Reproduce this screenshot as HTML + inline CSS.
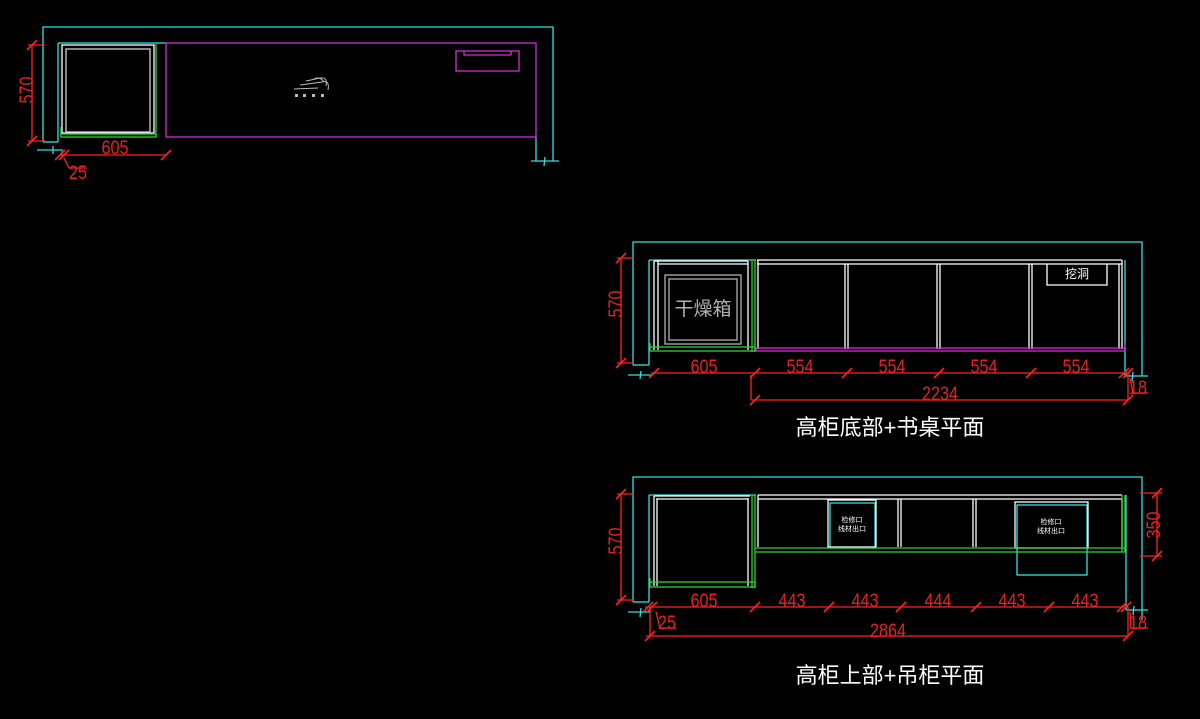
<!DOCTYPE html>
<html><head><meta charset="utf-8"><style>
html,body{margin:0;padding:0;background:#000;}
svg{display:block}
text{font-family:"Liberation Sans","Noto Sans CJK SC",sans-serif;}
</style></head><body>
<svg width="1200" height="719" viewBox="0 0 1200 719" xmlns="http://www.w3.org/2000/svg">
<rect width="1200" height="719" fill="#000"/>
<defs>
<g id="tk"><line x1="-5" y1="5" x2="5" y2="-5" stroke="#ff2020" stroke-width="1.6"/></g>
</defs>
<g fill="none" stroke-width="1.3">
<!-- ===== TOP DRAWING ===== -->
<g stroke="#33e0e0">
<polyline points="43,142 43,27 553,27 553,161"/>
<line x1="58" y1="43" x2="58" y2="142"/>
<line x1="58" y1="43" x2="166" y2="43"/>
<line x1="43" y1="142" x2="58" y2="142"/>
<line x1="37" y1="150" x2="63" y2="150"/>
<line x1="53" y1="146" x2="53" y2="154"/>
<line x1="536" y1="137" x2="536" y2="161"/>
<line x1="531" y1="161" x2="559" y2="161"/>
<line x1="545" y1="157" x2="544" y2="166"/>
</g>
<g stroke="#ffffff">
<rect x="62" y="45" width="92" height="88"/>
<rect x="66" y="49" width="84" height="83" stroke="#cfcfcf"/>
</g>
<g stroke="#30d030">
<line x1="156" y1="44" x2="156" y2="137"/>
<rect x="61" y="134" width="95" height="3"/>
<line x1="61" y1="127" x2="61" y2="134"/>
</g>
<g stroke="#d030d0">
<rect x="166" y="43" width="370" height="94"/>
<rect x="456" y="51" width="63" height="20"/>
<polyline points="464,51 464,55 511,55 511,51"/>
</g>
<g stroke="#bbbbbb" stroke-width="1">
<path d="M294,89 L318,88 M300,85 L322,82 Q330,80 328,90 M306,81 L320,78 Q328,77 326,86 M314,79 Q320,76 324,82"/>
</g>
<g fill="#bbbbbb" stroke="none"><rect x="295" y="94" width="3" height="3"/><rect x="303" y="94" width="3" height="3"/><rect x="312" y="94" width="3" height="3"/><rect x="321" y="94" width="3" height="3"/></g>
<g stroke="#ff2020">
<line x1="32" y1="45" x2="32" y2="142"/>
<line x1="28" y1="45" x2="45" y2="45"/>
<line x1="28" y1="141" x2="45" y2="141"/>
<line x1="60" y1="155" x2="166" y2="155"/>
<line x1="62" y1="151" x2="62" y2="158"/>
<line x1="64" y1="158" x2="69" y2="168"/>
<line x1="69" y1="168" x2="87" y2="168"/>
</g>
<use href="#tk" x="32" y="45"/><use href="#tk" x="32" y="141"/>
<use href="#tk" x="60" y="155"/><use href="#tk" x="64" y="155"/><use href="#tk" x="166" y="155"/>

<!-- ===== MIDDLE DRAWING ===== -->
<g stroke="#33e0e0">
<polyline points="633,365 633,242 1142,242 1142,376"/>
<line x1="649" y1="260" x2="649" y2="365"/>
<line x1="649" y1="260" x2="756" y2="260"/>
<line x1="1125" y1="260" x2="1125" y2="376"/>
<line x1="633" y1="365" x2="649" y2="365"/>
<line x1="628" y1="375" x2="651" y2="375"/>
<line x1="641" y1="371" x2="640" y2="379"/>
<line x1="1125" y1="376" x2="1148" y2="376"/>
<line x1="1133" y1="372" x2="1132" y2="381"/>
</g>
<g stroke="#ffffff">
<line x1="654" y1="261" x2="654" y2="350"/>
<line x1="658" y1="261" x2="658" y2="350"/>
<line x1="748" y1="261" x2="748" y2="350"/>
<line x1="654" y1="261" x2="748" y2="261"/>
<line x1="658" y1="264" x2="748" y2="264"/>
<line x1="757" y1="260" x2="1122" y2="260"/>
<line x1="757" y1="264" x2="1122" y2="264"/>
<line x1="758" y1="260" x2="758" y2="349"/>
<line x1="845" y1="264" x2="845" y2="349"/>
<line x1="848" y1="264" x2="848" y2="349"/>
<line x1="937" y1="264" x2="937" y2="349"/>
<line x1="940" y1="264" x2="940" y2="349"/>
<line x1="1029" y1="264" x2="1029" y2="349"/>
<line x1="1032" y1="264" x2="1032" y2="349"/>
<line x1="1119" y1="264" x2="1119" y2="349"/>
<line x1="1122" y1="260" x2="1122" y2="349"/>
<polyline points="1047,264 1047,285 1107,285 1107,264"/>
</g>
<g stroke="#b0b0b0"><rect x="665" y="275" width="76" height="69"/><rect x="669" y="279" width="68" height="61"/></g>
<g stroke="#30d030">
<line x1="752" y1="260" x2="752" y2="352"/>
<line x1="755" y1="260" x2="755" y2="352"/>
<rect x="650" y="347" width="105" height="4"/>
<line x1="650" y1="343" x2="650" y2="347"/>
</g>
<g stroke="#d030d0">
<rect x="756" y="348" width="369" height="3"/>
<line x1="1125" y1="343" x2="1125" y2="351"/>
</g>
<g stroke="#ff2020">
<line x1="621" y1="258" x2="621" y2="364"/>
<line x1="617" y1="258" x2="634" y2="258"/>
<line x1="617" y1="363" x2="634" y2="363"/>
<line x1="651" y1="373" x2="1127" y2="373"/>
<line x1="751" y1="400" x2="1128" y2="400"/>
<line x1="751" y1="375" x2="751" y2="400"/>
<line x1="1128" y1="373" x2="1128" y2="400"/>
<line x1="1130" y1="378" x2="1133" y2="393"/>
<line x1="1133" y1="393" x2="1148" y2="393"/>
</g>
<use href="#tk" x="621" y="258"/><use href="#tk" x="621" y="363"/>
<use href="#tk" x="654" y="373"/><use href="#tk" x="755" y="373"/><use href="#tk" x="847" y="373"/><use href="#tk" x="939" y="373"/><use href="#tk" x="1031" y="373"/><use href="#tk" x="1124" y="373"/><use href="#tk" x="1128" y="373"/>
<use href="#tk" x="755" y="400"/><use href="#tk" x="1128" y="400"/>

<!-- ===== BOTTOM DRAWING ===== -->
<g stroke="#33e0e0">
<polyline points="633,602 633,477 1142,477 1142,620"/>
<line x1="649" y1="495" x2="649" y2="602"/>
<line x1="649" y1="495" x2="756" y2="495"/>
<line x1="1126" y1="495" x2="1126" y2="610"/>
<line x1="633" y1="602" x2="649" y2="602"/>
<line x1="628" y1="612" x2="651" y2="612"/>
<line x1="641" y1="608" x2="640" y2="617"/>
<line x1="1126" y1="610" x2="1148" y2="610"/>
<line x1="1134" y1="606" x2="1133" y2="615"/>
<rect x="830" y="503" width="45" height="45"/>
<rect x="1017" y="505" width="70" height="70"/>
</g>
<g stroke="#ffffff">
<line x1="654" y1="496" x2="654" y2="586"/>
<line x1="657" y1="498" x2="657" y2="586"/>
<line x1="748" y1="498" x2="748" y2="586"/>
<line x1="654" y1="496" x2="750" y2="496"/>
<line x1="657" y1="499" x2="748" y2="499"/>
<line x1="758" y1="495" x2="1122" y2="495"/>
<line x1="758" y1="499" x2="1122" y2="499"/>
<line x1="758" y1="495" x2="758" y2="547"/>
<line x1="898" y1="499" x2="898" y2="547"/>
<line x1="901" y1="499" x2="901" y2="547"/>
<line x1="973" y1="499" x2="973" y2="547"/>
<line x1="976" y1="499" x2="976" y2="547"/>
<line x1="1122" y1="499" x2="1122" y2="547"/>
<rect x="828" y="500" width="48" height="47"/>
<rect x="1015" y="502" width="73" height="46"/>
</g>
<g stroke="#30d030">
<line x1="752" y1="495" x2="752" y2="588"/>
<line x1="755" y1="495" x2="755" y2="588"/>
<rect x="650" y="582" width="105" height="5"/>
<line x1="650" y1="578" x2="650" y2="582"/>
<line x1="755" y1="548" x2="1126" y2="548"/>
<line x1="755" y1="552" x2="1126" y2="552"/>
<line x1="1122" y1="495" x2="1122" y2="552"/>
<line x1="1125" y1="495" x2="1125" y2="552"/>
</g>
<g stroke="#ff2020">
<line x1="621" y1="494" x2="621" y2="601"/>
<line x1="617" y1="494" x2="634" y2="494"/>
<line x1="617" y1="600" x2="634" y2="600"/>
<line x1="1157" y1="493" x2="1157" y2="556"/>
<line x1="1140" y1="493" x2="1162" y2="493"/>
<line x1="1140" y1="556" x2="1162" y2="556"/>
<line x1="645" y1="607" x2="1128" y2="607"/>
<line x1="646" y1="636" x2="1128" y2="636"/>
<line x1="650" y1="607" x2="650" y2="636"/>
<line x1="1128" y1="607" x2="1128" y2="636"/>
<line x1="656" y1="612" x2="660" y2="628"/>
<line x1="660" y1="628" x2="676" y2="628"/>
<line x1="1130" y1="612" x2="1131" y2="628"/>
<line x1="1131" y1="628" x2="1148" y2="628"/>
</g>
<use href="#tk" x="621" y="494"/><use href="#tk" x="621" y="600"/>
<use href="#tk" x="1157" y="493"/><use href="#tk" x="1157" y="556"/>
<use href="#tk" x="648" y="607"/><use href="#tk" x="652" y="607"/><use href="#tk" x="755" y="607"/><use href="#tk" x="829" y="607"/><use href="#tk" x="901" y="607"/><use href="#tk" x="976" y="607"/><use href="#tk" x="1049" y="607"/><use href="#tk" x="1122" y="607"/><use href="#tk" x="1126" y="607"/>
<use href="#tk" x="650" y="636"/><use href="#tk" x="1128" y="636"/>
</g>

<!-- ===== TEXT ===== -->
<g fill="#e82020" font-size="19" lengthAdjust="spacingAndGlyphs">
<text x="33" y="90" transform="rotate(-90 33 90)" text-anchor="middle" textLength="27" lengthAdjust="spacingAndGlyphs">570</text>
<text x="115" y="154" text-anchor="middle" textLength="27" lengthAdjust="spacingAndGlyphs">605</text>
<text x="78" y="179" text-anchor="middle" textLength="18" lengthAdjust="spacingAndGlyphs">25</text>

<text x="622" y="304" transform="rotate(-90 622 304)" text-anchor="middle" textLength="27" lengthAdjust="spacingAndGlyphs">570</text>
<text x="704" y="373" text-anchor="middle" textLength="27" lengthAdjust="spacingAndGlyphs">605</text>
<text x="800" y="373" text-anchor="middle" textLength="27" lengthAdjust="spacingAndGlyphs">554</text>
<text x="892" y="373" text-anchor="middle" textLength="27" lengthAdjust="spacingAndGlyphs">554</text>
<text x="984" y="373" text-anchor="middle" textLength="27" lengthAdjust="spacingAndGlyphs">554</text>
<text x="1076" y="373" text-anchor="middle" textLength="27" lengthAdjust="spacingAndGlyphs">554</text>
<text x="940" y="400" text-anchor="middle" textLength="36" lengthAdjust="spacingAndGlyphs">2234</text>
<text x="1138" y="394" text-anchor="middle" textLength="18" lengthAdjust="spacingAndGlyphs">18</text>

<text x="622" y="541" transform="rotate(-90 622 541)" text-anchor="middle" textLength="27" lengthAdjust="spacingAndGlyphs">570</text>
<text x="1160" y="525" transform="rotate(-90 1160 525)" text-anchor="middle" textLength="27" lengthAdjust="spacingAndGlyphs">350</text>
<text x="704" y="607" text-anchor="middle" textLength="27" lengthAdjust="spacingAndGlyphs">605</text>
<text x="792" y="607" text-anchor="middle" textLength="27" lengthAdjust="spacingAndGlyphs">443</text>
<text x="865" y="607" text-anchor="middle" textLength="27" lengthAdjust="spacingAndGlyphs">443</text>
<text x="938" y="607" text-anchor="middle" textLength="27" lengthAdjust="spacingAndGlyphs">444</text>
<text x="1012" y="607" text-anchor="middle" textLength="27" lengthAdjust="spacingAndGlyphs">443</text>
<text x="1085" y="607" text-anchor="middle" textLength="27" lengthAdjust="spacingAndGlyphs">443</text>
<text x="888" y="637" text-anchor="middle" textLength="36" lengthAdjust="spacingAndGlyphs">2864</text>
<text x="667" y="629" text-anchor="middle" textLength="18" lengthAdjust="spacingAndGlyphs">25</text>
<text x="1138" y="629" text-anchor="middle" textLength="18" lengthAdjust="spacingAndGlyphs">18</text>
</g>
<g fill="#ffffff">
<text x="703" y="315" text-anchor="middle" font-size="19" fill="#b0b0b0">干燥箱</text>
<text x="1077" y="278" text-anchor="middle" font-size="12">挖洞</text>
<text x="852" y="522" text-anchor="middle" font-size="7">检修口</text>
<text x="852" y="531" text-anchor="middle" font-size="7">线材出口</text>
<text x="1051" y="524" text-anchor="middle" font-size="7">检修口</text>
<text x="1051" y="533" text-anchor="middle" font-size="7">线材出口</text>
<text x="890" y="435" text-anchor="middle" font-size="22">高柜底部+书桌平面</text>
<text x="890" y="683" text-anchor="middle" font-size="22">高柜上部+吊柜平面</text>
</g>
</svg>
</body></html>
